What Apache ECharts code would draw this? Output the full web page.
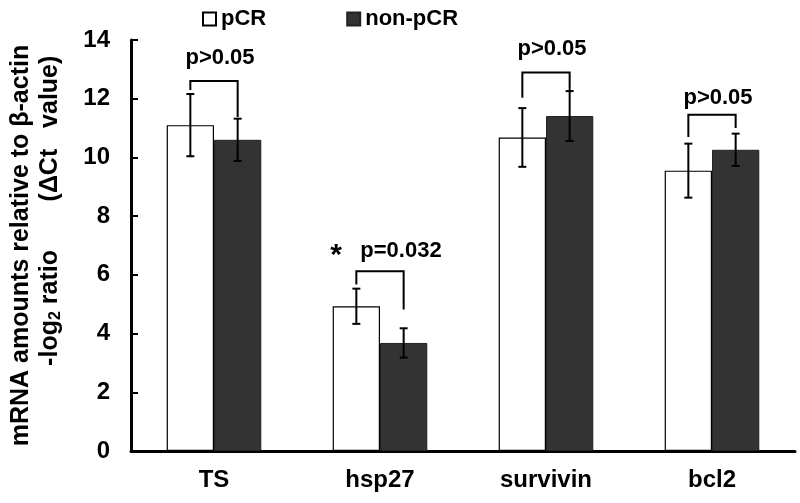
<!DOCTYPE html>
<html>
<head>
<meta charset="utf-8">
<script src="https://cdn.jsdelivr.net/npm/echarts@6/dist/echarts.min.js"></script>
<style>html,body{margin:0;padding:0;background:#fff;}#c{width:800px;height:503px;}</style>
</head>
<body>
<div id="c"></div>
<script>
var categories = ['TS', 'hsp27', 'survivin', 'bcl2'];
var pcrMean = [11.1, 4.93, 10.68, 9.55];
var pcrErr = [1.06, 0.6, 1.0, 0.92];
var nonMean = [10.6, 3.68, 11.41, 10.26];
var nonErr = [0.72, 0.5, 0.85, 0.55];
var pLabels = ['p>0.05', '{s|*}   p=0.032', 'p>0.05', 'p>0.05'];
var bracketTop = [12.6, 6.12, 12.89, 11.45];
var bracketLeftEnd = [12.3, 5.67, 12.03, 10.7];
var bracketRightEnd = [11.38, 4.82, 12.28, 11.0];
var pLabelY = [13.39, 6.82, 13.69, 12.03];
var yTicks = [0, 2, 4, 6, 8, 10, 12, 14];

var FONT = '"Liberation Sans", Arial, sans-serif';
var CAT_GAP = 0.43;

function barOffset(api) {
  var catW = api.size([1, 0])[0];
  return catW * (1 - CAT_GAP) / 4;
}

function errData(mean, err) {
  return categories.map(function (c, i) { return [i, mean[i] - err[i], mean[i] + err[i]]; });
}

function errRender(side) {
  return function (params, api) {
    var off = barOffset(api) * side;
    var lo = api.coord([api.value(0), api.value(1)]);
    var hi = api.coord([api.value(0), api.value(2)]);
    var x = lo[0] + off;
    var cw = 4;
    var st = { stroke: '#000', lineWidth: 2 };
    return {
      type: 'group',
      children: [
        { type: 'line', shape: { x1: x, y1: lo[1], x2: x, y2: hi[1] }, style: st },
        { type: 'line', shape: { x1: x - cw, y1: lo[1], x2: x + cw, y2: lo[1] }, style: st },
        { type: 'line', shape: { x1: x - cw, y1: hi[1], x2: x + cw, y2: hi[1] }, style: st }
      ]
    };
  };
}

var bracketData = categories.map(function (c, i) {
  return [i, bracketTop[i], bracketLeftEnd[i], bracketRightEnd[i], pLabelY[i]];
});

var chart = echarts.init(document.getElementById('c'));
chart.setOption({
  animation: false,
  backgroundColor: '#fff',
  textStyle: { fontFamily: FONT },
  legend: {
    data: ['pCR', 'non-pCR'],
    left: 197,
    top: 3,
    icon: 'rect',
    itemWidth: 13,
    itemHeight: 13,
    itemGap: 80,
    textStyle: { fontSize: 22, fontWeight: 'bold', color: '#000', fontFamily: FONT }
  },
  grid: { left: 131, right: 5, top: 40, bottom: 52, containLabel: false, outerBoundsMode: 'none' },
  xAxis: {
    type: 'category',
    data: categories,
    axisLine: { lineStyle: { color: '#000', width: 3 } },
    axisTick: { inside: true, length: 7, lineStyle: { color: '#000', width: 2 } },
    axisLabel: { fontSize: 24, fontWeight: 'bold', color: '#000', margin: 17, fontFamily: FONT },
    splitLine: { show: false }
  },
  yAxis: {
    type: 'value',
    min: yTicks[0],
    max: yTicks[yTicks.length - 1],
    interval: 2,
    axisLine: { show: true, lineStyle: { color: '#000', width: 3 } },
    axisTick: { show: true, inside: true, length: 7, lineStyle: { color: '#000', width: 2 } },
    axisLabel: { fontSize: 24, fontWeight: 'bold', color: '#000', margin: 21, fontFamily: FONT },
    splitLine: { show: false },
    name: '{a|mRNA amounts relative to β-actin}\n{a|          -log}{sub|2}{a| ratio       (ΔCt   value)}',
    nameLocation: 'middle',
    nameRotate: 90,
    nameGap: 66,
    nameTextStyle: {
      fontFamily: FONT,
      lineHeight: 29,
      rich: {
        a: { fontSize: 25, fontWeight: 'bold', color: '#000', lineHeight: 29, fontFamily: FONT },
        sub: { fontSize: 16, fontWeight: 'bold', color: '#000', lineHeight: 29, padding: [10, 0, 0, 0], fontFamily: FONT }
      }
    }
  },
  series: [
    {
      name: 'pCR',
      type: 'bar',
      data: pcrMean,
      barGap: '0%',
      barCategoryGap: (CAT_GAP * 100) + '%',
      itemStyle: { color: '#ffffff', borderColor: '#000', borderWidth: 1.2 },
      z: 2
    },
    {
      name: 'non-pCR',
      type: 'bar',
      data: nonMean,
      barGap: '0%',
      barCategoryGap: (CAT_GAP * 100) + '%',
      itemStyle: { color: '#333333', borderColor: '#222', borderWidth: 1 },
      z: 2
    },
    {
      type: 'custom',
      data: errData(pcrMean, pcrErr),
      renderItem: errRender(-1),
      z: 5,
      silent: true
    },
    {
      type: 'custom',
      data: errData(nonMean, nonErr),
      renderItem: errRender(1),
      z: 5,
      silent: true
    },
    {
      type: 'custom',
      data: bracketData,
      z: 5,
      silent: true,
      renderItem: function (params, api) {
        var off = barOffset(api);
        var top = api.coord([api.value(0), api.value(1)]);
        var le = api.coord([api.value(0), api.value(2)]);
        var re = api.coord([api.value(0), api.value(3)]);
        var lab = api.coord([api.value(0), api.value(4)]);
        var xL = top[0] - off, xR = top[0] + off;
        return {
          type: 'group',
          children: [
            {
              type: 'polyline',
              shape: { points: [[xL, le[1]], [xL, top[1]], [xR, top[1]], [xR, re[1]]] },
              style: { stroke: '#000', lineWidth: 2, fill: null }
            },
            {
              type: 'text',
              x: top[0] + 6,
              y: lab[1],
              style: {
                text: pLabels[params.dataIndex],
                fontSize: 22,
                fontWeight: 'bold',
                fontFamily: FONT,
                fill: '#000',
                align: 'center',
                verticalAlign: 'middle',
                rich: {
                  s: { fontSize: 30, fontWeight: 'bold', fontFamily: FONT, fill: '#000', padding: [10, 0, 0, 0] }
                }
              }
            }
          ]
        };
      }
    }
  ]
});
</script>
</body>
</html>
